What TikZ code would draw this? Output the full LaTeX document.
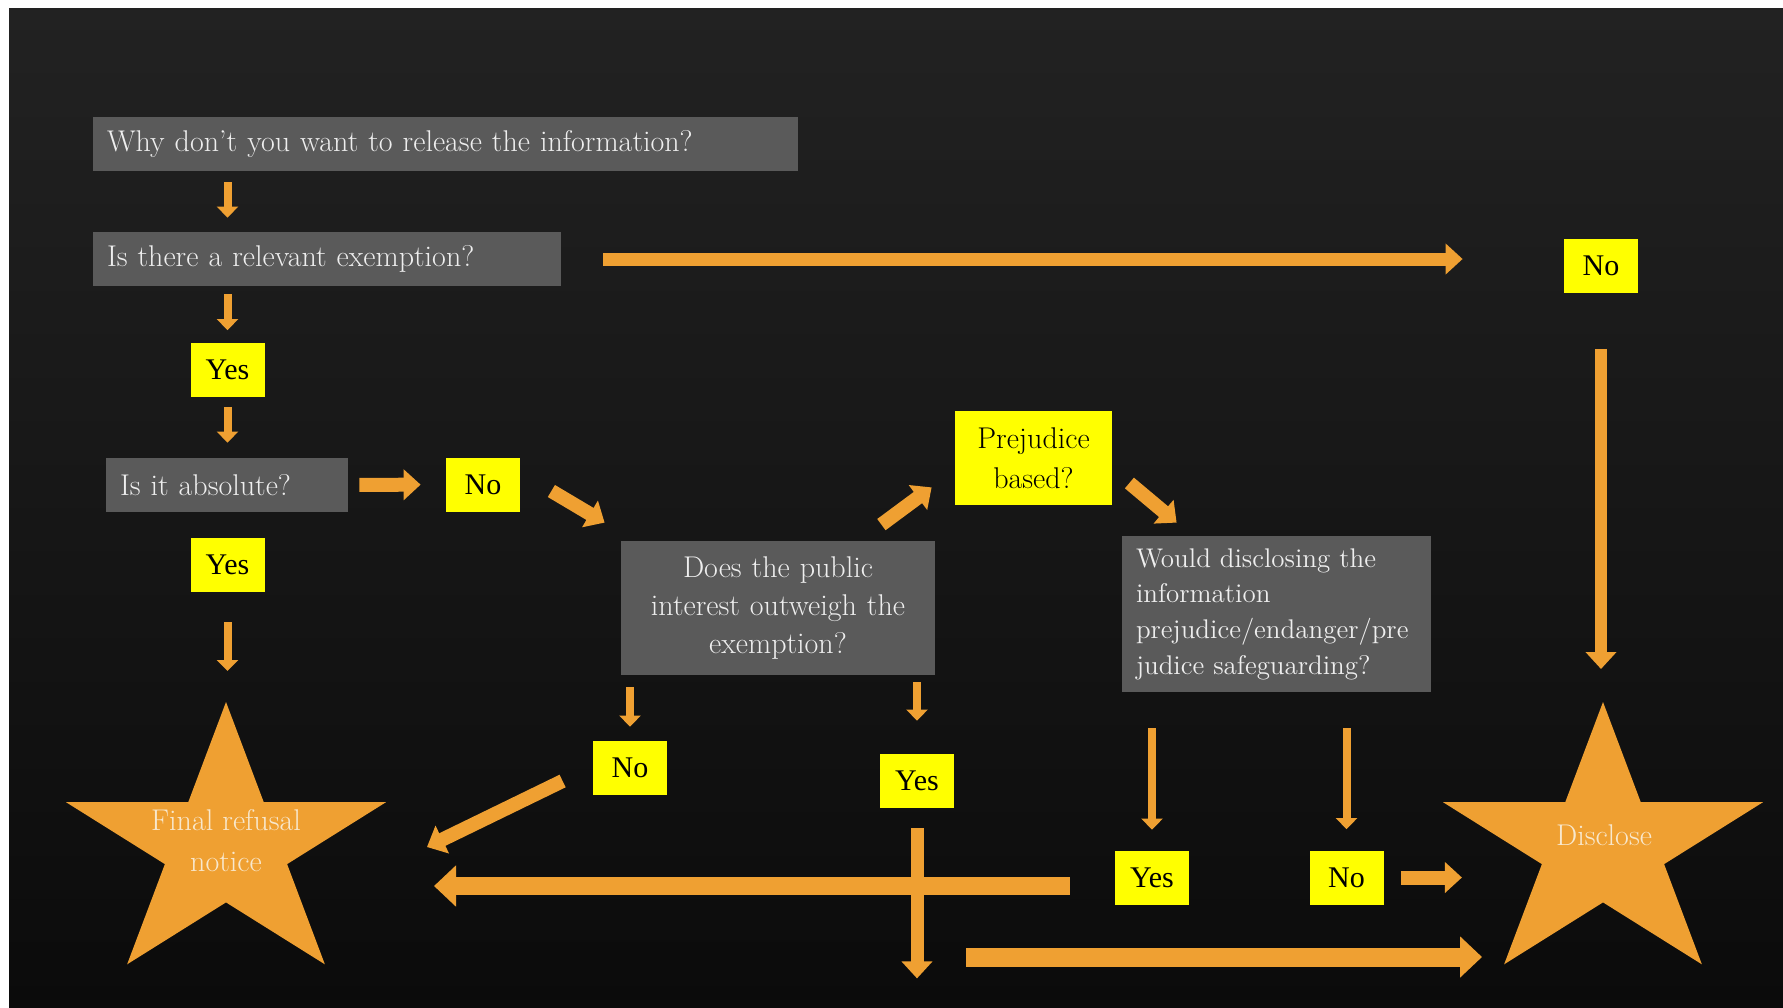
\documentclass[tikz,border=0pt]{standalone}
\usepackage{fontspec}
\newfontfamily\answerfont{Liberation Serif}
\usetikzlibrary{arrows.meta,calc}
\definecolor{boxgray}{RGB}{90,90,90}
\definecolor{boxtext}{RGB}{238,238,238}
\definecolor{ansyellow}{RGB}{255,255,0}
\definecolor{arroworange}{RGB}{239,160,50}
\definecolor{starwhite}{RGB}{248,232,205}
\definecolor{bgtop}{RGB}{34,34,34}
\definecolor{bgbottom}{RGB}{11,11,11}
\newcommand{\orangestar}[2]{%
  \fill[starfill] plot[samples at={0,...,9},variable=\k]
    ({#1+168.2*ifthenelse(mod(\k,2)==0,1,0.382)*sin(36*\k)},
     {#2-145*ifthenelse(mod(\k,2)==0,1,0.382)*cos(36*\k)}) -- cycle;}

\begin{document}
\begin{tikzpicture}[x=0.5pt,y=-0.5pt,
  question/.style={fill=boxgray,text=boxtext,inner xsep=7pt,inner ysep=0pt,minimum height=27pt,font=\fontsize{15}{19}\selectfont},
  answer/.style={fill=ansyellow,text=black,inner sep=0pt,minimum width=37pt,minimum height=27pt,font=\answerfont\fontsize{15}{18}\selectfont},
  startext/.style={text=starwhite,align=center,font=\fontsize{15}{20.5}\selectfont},
  thinarrow/.style={arroworange,line width=4pt,-{Triangle[width=10.5pt,length=5.5pt]}},
  fatarrow/.style={arroworange,line width=7pt,-{Triangle[width=15pt,length=8.5pt]}},
  widearrow/.style={arroworange,line width=9pt,-{Triangle[width=20pt,length=11pt]}},
  starfill/.style={fill=arroworange}]

\useasboundingbox (0,0) rectangle (1783,1007);
\fill[white] (0,0) rectangle (1783,1007);
\shade[top color=bgtop,bottom color=bgbottom] (9,8) rectangle (1783,1007);

\orangestar{226}{847}
\orangestar{1603}{847}
\coordinate (refuse top) at (226,702);
\coordinate (disclose top) at (1603,702);
\coordinate (bypass) at (966,957);

\node[question,text width=338.5pt,align=left] (q1) at (445.5,144) {Why don’t you want to release the information?};
\node[question,text width=220pt,align=left] (q2) at (327,259) {Is there a relevant exemption?};
\node[answer] (yes1) at (227.5,369.5) {Yes};
\node[question,text width=107pt,align=left] (q3) at (227,485) {Is it absolute?};
\node[answer] (no1) at (483,484.5) {No};
\node[answer] (yes2) at (227.5,565) {Yes};
\node[question,text width=143pt,align=center,minimum height=67pt] (pi) at (778,608) {Does the public\\interest outweigh the\\exemption?};
\node[answer,font=\fontsize{15}{20}\selectfont,minimum width=78.5pt,minimum height=47pt,align=center] (prej) at (1033.5,458) {Prejudice\\based?};
\node[question,text width=140.5pt,align=left,minimum height=78pt,font=\fontsize{13.5}{17.8}\selectfont] (would) at (1276.5,614) {Would disclosing the\\information\\prejudice/endanger/pre\\judice safeguarding?};
\node[answer] (no2) at (1601,265.5) {No};
\node[answer] (no3) at (630,768) {No};
\node[answer] (yes3) at (917,781) {Yes};
\node[answer] (yes4) at (1152,878) {Yes};
\node[answer] (no4) at (1346.5,877.5) {No};
\node[startext] (refuse) at (226,841) {Final refusal\\notice};
\node[startext] (disclose) at (1604,835) {Disclose};

\draw[thinarrow,shorten <=5.5pt,shorten >=7pt] (q1.south -| yes1) -- (q2.north -| yes1);
\draw[thinarrow,shorten <=4pt,shorten >=6pt] (q2.south -| yes1) -- (yes1.north);
\draw[thinarrow,shorten <=5pt,shorten >=7.5pt] (yes1.south) -- (q3.north -| yes1);
\draw[fatarrow,shorten <=5.5pt,shorten >=12.5pt] (q3.east) -- (no1.west);
\draw[fatarrow] ($(no1.east)+(31,6.5)$) -- ($(pi.north west)+(-16,-18)$);
\draw[thinarrow,shorten <=15pt,shorten >=15.5pt] (yes2.south) -- (yes2.south |- refuse top);
\draw[fatarrow,line width=6.5pt,shorten <=21pt,shorten >=50.5pt] (q2.east) -- (q2.east -| no2.west);
\draw[fatarrow,line width=6pt,shorten <=28pt,shorten >=16.5pt] (no2.south) -- (no2.south |- disclose top);
\draw[fatarrow] ($(pi.north east)+(-54,-16)$) -- ($(prej.south west)+(-23,-18)$);
\draw[fatarrow] ($(prej.east)+(17,25)$) -- ($(would.north west)+(55,-13)$);
\draw[thinarrow,shorten <=6pt,shorten >=7pt] (pi.south -| no3) -- (no3.north);
\draw[thinarrow,shorten <=3.5pt,shorten >=16.5pt] (pi.south -| yes3) -- (yes3.north);
\draw[fatarrow] ($(no3.west)+(-30,13)$) -- ($(refuse)+(201,6)$);
\draw[fatarrow,line width=6.5pt,shorten <=10pt] (yes3.south) -- ++(0,170);
\draw[thinarrow,shorten <=18pt,shorten >=10.5pt] (would.south -| yes4) -- (yes4.north);
\draw[thinarrow,shorten <=18pt,shorten >=10.5pt] (would.south -| no4) -- (no4.north);
\draw[fatarrow,shorten <=8.5pt] (no4.east) -- ++(78,0);
\draw[widearrow] ($(yes4.west)+(-45,8)$) -- ($(refuse)+(208,45)$);
\draw[widearrow,line width=9.5pt] (bypass) -- ($(disclose)+(-122,122)$);
\end{tikzpicture}
\end{document}
